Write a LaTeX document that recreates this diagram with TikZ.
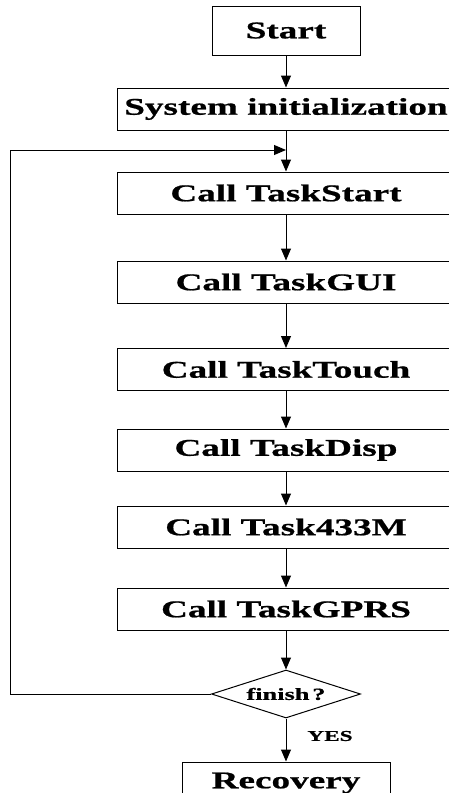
\documentclass[tikz,border=0pt]{standalone}
\usepackage{fontspec}
\setmainfont{Liberation Serif}[FakeStretch=1.55,FakeBold=0.8]
\usetikzlibrary{arrows.meta,shapes.geometric}
\begin{document}
\begin{tikzpicture}[x=1pt,y=-1pt,
  line width=1pt,
  boxnode/.style={draw=black,line width=1pt,rectangle,minimum height=42pt,inner sep=0pt,font=\fontsize{24}{26}\selectfont\bfseries},
  widebox/.style={boxnode,minimum width=338pt},
  decnode/.style={draw=black,line width=1pt,diamond,aspect=3.1,minimum width=149pt,minimum height=48pt,inner sep=0pt,font=\fontsize{17}{19}\selectfont\bfseries},
  flowarrow/.style={-{Triangle[length=12pt,width=10pt]}}]
\useasboundingbox (0,0) rectangle (449,793);
\begin{scope}
\clip (0,0) rectangle (449,793);
\node[boxnode,minimum width=148pt,minimum height=49pt] (start) at (286,30.5) {Start};
\node[widebox] (init) at (286,109) {System initialization};
\node[widebox] (t1) at (286,193) {Call TaskStart};
\node[widebox] (t2) at (286,282) {Call TaskGUI};
\node[widebox] (t3) at (286,369.5) {Call TaskTouch};
\node[widebox] (t4) at (286,450) {Call TaskDisp};
\node[widebox] (t5) at (286,527) {Call Task433M};
\node[widebox] (t6) at (286,609) {Call TaskGPRS};
\node[decnode] (fin) at (286,694) {finish\,?};
\node[boxnode,minimum width=208pt] (rec) at (286,783) {Recovery};
\coordinate (join) at (286,150);
\coordinate (lb) at (10,694);
\coordinate (lt) at (10,150);
\draw[flowarrow] (start) -- (init);
\draw[flowarrow] (init) -- (t1);
\draw[flowarrow] (t1) -- (t2);
\draw[flowarrow] (t2) -- (t3);
\draw[flowarrow] (t3) -- (t4);
\draw[flowarrow] (t4) -- (t5);
\draw[flowarrow] (t5) -- (t6);
\draw[flowarrow] (t6) -- (fin);
\draw[flowarrow] (fin) -- (rec);
\node[font=\fontsize{15}{17}\selectfont\bfseries,inner sep=0pt] (yes) at (330,736) {YES};
\draw[flowarrow] (fin.west) -- (lb) -- (lt) -- (join);
\end{scope}
\end{tikzpicture}
\end{document}
